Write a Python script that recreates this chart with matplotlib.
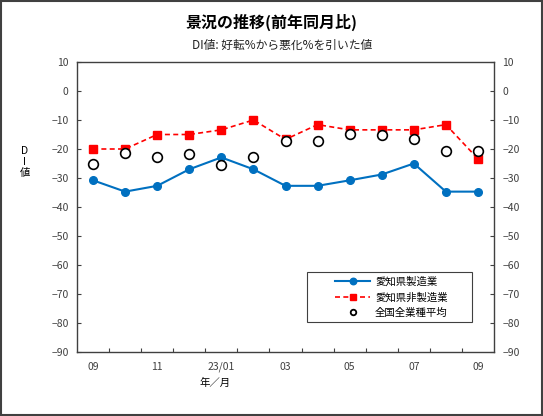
import matplotlib
matplotlib.use("Agg")
import matplotlib.pyplot as plt
from matplotlib.patches import Rectangle

plt.rcParams['font.family'] = ['Noto Sans CJK JP', 'DejaVu Sans']

categories = ["09", "10", "11", "12", "23/01", "02", "03", "04", "05", "06", "07", "08", "09"]
manufacturing = [-30.8, -34.7, -32.7, -27.0, -22.9, -27.0, -32.7, -32.7, -30.8, -28.8, -25.0, -34.7, -34.7]
non_manufacturing = [-20.0, -20.0, -15.0, -15.0, -13.4, -10.0, -16.7, -11.6, -13.4, -13.4, -13.4, -11.6, -23.4]
national_avg = [-25.1, -21.5, -22.9, -21.6, -25.5, -22.6, -17.4, -17.2, -14.9, -15.1, -16.7, -20.6, -20.6]
series_names = ["愛知県製造業", "愛知県非製造業", "全国全業種平均"]
y_ticks = list(range(-90, 11, 10))

W, H = 543, 416
fig = plt.figure(figsize=(W / 100, H / 100), dpi=100)
ax = fig.add_axes([77 / W, 1 - 352 / H, (494 - 77) / W, (352 - 62) / H])

x = list(range(len(categories)))
ax.plot(x, manufacturing, color="#0070C0", lw=1.5, marker="o", ms=5.5, label=series_names[0])
ax.plot(x, non_manufacturing, color="#FF0000", lw=1.2, ls=(0, (3, 2)), marker="s", ms=5.5, label=series_names[1])
ax.plot(x, national_avg, ls="none", marker="o", ms=7, mfc="white", mec="black", mew=1.2, label=series_names[2])

ax.set_xlim(-0.5, len(categories) - 0.5)
ax.set_ylim(-90, 10)
ax.set_yticks(y_ticks)
ax.set_yticklabels([str(v).replace("-", "−") for v in y_ticks])
ax.tick_params(axis="y", direction="in", length=3, labelsize=7.5, colors="#404040",
               left=True, right=True, labelleft=True, labelright=True, pad=6, width=0.8)
ax.set_xticks([i + 0.5 for i in range(len(categories) - 1)])
ax.set_xticklabels([])
ax.set_xticks(x[::2], minor=True)
ax.set_xticklabels(categories[::2], minor=True)
ax.tick_params(axis="x", which="major", direction="in", length=3, width=0.8, colors="#404040")
ax.tick_params(axis="x", which="minor", length=0, labelsize=7.5, pad=7, labelcolor="#404040")
for s in ax.spines.values():
    s.set_color("#404040")
    s.set_linewidth(1.0)

# legend frame (Excel-style wide box) and frameless legend centred inside it
bx0, by0, bx1, by1 = 307, 272, 472, 322
fig.patches.append(Rectangle((bx0 / W, 1 - by1 / H), (bx1 - bx0) / W, (by1 - by0) / H,
                             transform=fig.transFigure, facecolor="white",
                             edgecolor="#404040", lw=0.8, zorder=3))
leg = fig.legend(*ax.get_legend_handles_labels(), loc="center",
                 bbox_to_anchor=((bx0 + bx1) / 2 / W + 2 / W, 1 - (by0 + by1) / 2 / H),
                 fontsize=7.5, frameon=False, handlelength=3.3, handletextpad=0.5,
                 borderpad=0.0, labelspacing=0.55, markerscale=0.85)
leg.set_zorder(4)
leg.legend_handles[2].set_markersize(4)
leg.legend_handles[2].set_markeredgewidth(1.3)

fig.text(272 / W, 1 - 22 / H, "景況の推移(前年同月比)", ha="center", va="center", fontsize=11.5, fontweight="bold")
fig.text(282 / W, 1 - 45 / H, "DI値: 好転%から悪化%を引いた値", ha="center", va="center", fontsize=8.5, color="#202020")
fig.text(25 / W, 1 - 162 / H, "D\nI\n値", ha="center", va="center", fontsize=7.5, linespacing=1.1)
fig.text(215 / W, 1 - 383 / H, "年／月", ha="center", va="center", fontsize=7.5)

fig.patches.append(Rectangle((0.002, 0.002), 0.996, 0.996, transform=fig.transFigure,
                             fill=False, edgecolor="#404040", lw=1.5))

fig.savefig("out.png", dpi=100)
